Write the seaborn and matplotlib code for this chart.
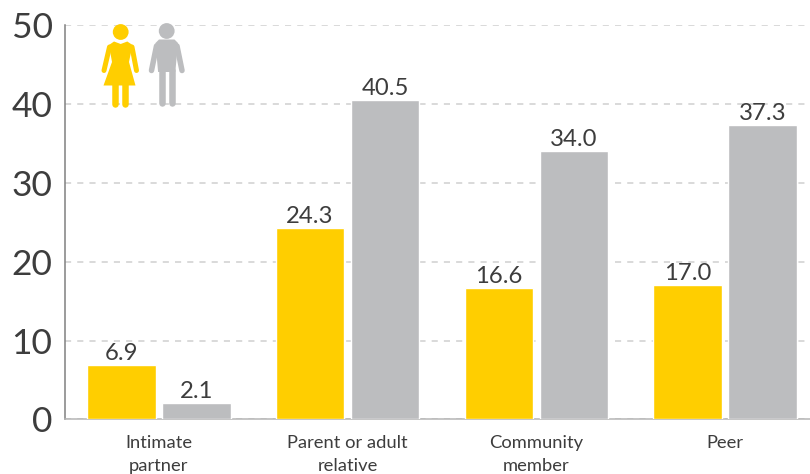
import matplotlib
matplotlib.use("Agg")
import matplotlib.pyplot as plt
from matplotlib.patches import Circle, Polygon
from matplotlib.lines import Line2D
from matplotlib.transforms import Affine2D
import pandas as pd
import seaborn as sns

categories = ["Intimate\npartner", "Parent or adult\nrelative", "Community\nmember", "Peer"]
female_values = [6.9, 24.3, 16.6, 17.0]
male_values = [2.1, 40.5, 34.0, 37.3]
y_ticks = [0, 10, 20, 30, 40, 50]

YELLOW = "#FFCE00"
GREY = "#BCBDBF"
TEXT = "#3D3D3D"

sns.set_theme(style="white")
plt.rcParams["font.family"] = ["Lato", "DejaVu Sans"]

df = pd.DataFrame({
    "category": categories * 2,
    "sex": ["Female"] * 4 + ["Male"] * 4,
    "value": female_values + male_values,
})

W, H = 810, 474
fig = plt.figure(figsize=(W / 100, H / 100), dpi=100)
ax = fig.add_axes([65 / W, 1 - 419.4 / H, (W - 65) / W, (419.4 - 24.9) / H])

sns.barplot(data=df, x="category", y="value", hue="sex", hue_order=["Female", "Male"],
            palette={"Female": YELLOW, "Male": GREY}, width=0.795, gap=0.087,
            saturation=1, legend=False, errorbar=None, ax=ax, zorder=3)

ax.set_xlim(-0.497, 3.45)
ax.set_ylim(0, 50)
ax.set_yticks(y_ticks)
ax.set_xlabel("")
ax.set_ylabel("")
ax.yaxis.grid(True, color="#CFCFCF", linestyle=(0, (4, 4)), linewidth=1.1, zorder=0)
ax.xaxis.grid(False)
ax.set_axisbelow(True)
ax.tick_params(axis="y", length=0, pad=9, labelsize=25.5, labelcolor=TEXT)
ax.tick_params(axis="x", length=0, pad=11.5, labelsize=13.2, labelcolor=TEXT)
for lab in ax.get_xticklabels():
    lab.set_linespacing(1.52)
for s in ("top", "right"):
    ax.spines[s].set_visible(False)
ax.spines["left"].set_color("#808080")
ax.spines["left"].set_linewidth(1.1)
ax.spines["bottom"].set_color("#B5B5B5")
ax.spines["bottom"].set_linewidth(1.1)

for container in ax.containers:
    ax.bar_label(container, fmt="%.1f", padding=0.8, fontsize=17.2, color=TEXT)

# Pictogram, placed in image pixels
px = Affine2D().scale(1 / W, -1 / H).translate(0, 1) + fig.transFigure


def poly(points, color):
    fig.add_artist(Polygon(points, closed=True, facecolor=color, edgecolor="none", transform=px))


def limb(p0, p1, color, width):
    fig.add_artist(Line2D([p0[0], p1[0]], [p0[1], p1[1]], color=color, linewidth=width * 0.72,
                          solid_capstyle="round", transform=px))


# woman
fig.add_artist(Circle((120.7, 32), 7.9, facecolor=YELLOW, edgecolor="none", transform=px))
poly([(114, 41.5), (120.7, 44), (127.3, 41.5), (132.5, 45), (129, 62), (135.5, 85.5),
      (103.5, 85.5), (112, 62), (109, 45)], YELLOW)
limb((109.5, 47), (104, 70.5), YELLOW, 5)
limb((132, 47), (136.5, 70.5), YELLOW, 5)
limb((114.5, 84), (114.5, 104), YELLOW, 6.5)
limb((124.7, 84), (124.7, 104), YELLOW, 6.5)

# man
fig.add_artist(Circle((166.7, 31), 7.9, facecolor=GREY, edgecolor="none", transform=px))
poly([(159, 39.5), (174.5, 39.5), (178, 43), (175.3, 72), (158.1, 72), (155.5, 43)], GREY)
limb((156.5, 46), (151.5, 70.5), GREY, 5.5)
limb((177, 46), (182, 70.5), GREY, 5.5)
limb((161.5, 70), (161.5, 103.5), GREY, 6.5)
limb((171.9, 70), (171.9, 103.5), GREY, 6.5)

fig.savefig("out.png", dpi=100, facecolor="white")
